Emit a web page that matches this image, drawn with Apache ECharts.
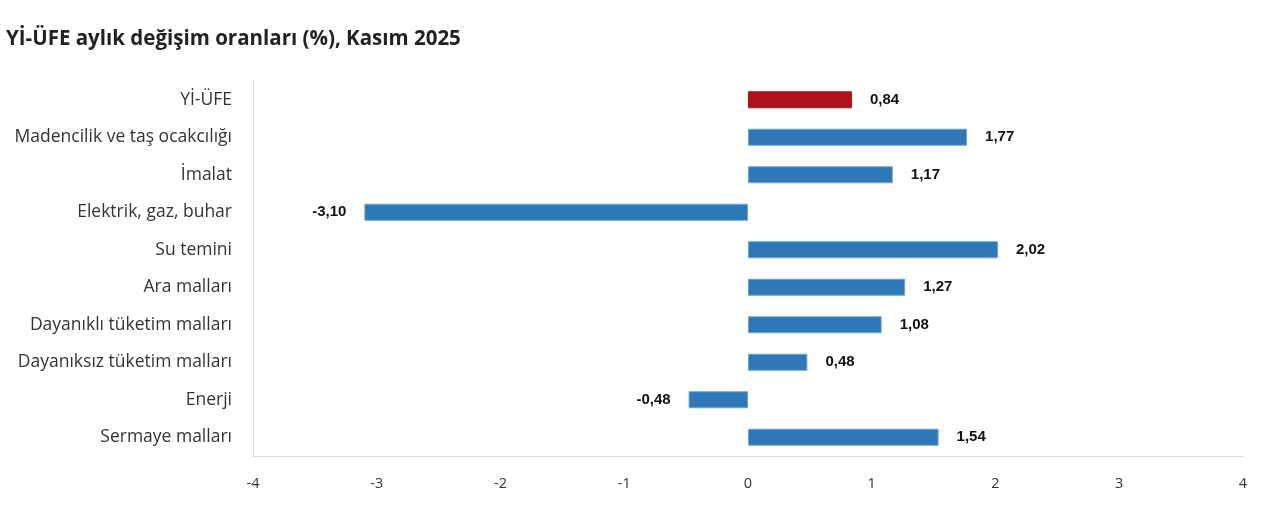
<!DOCTYPE html>
<html><head><meta charset="utf-8">
<script src="https://cdn.jsdelivr.net/npm/echarts@6/dist/echarts.min.js"></script>
<style>html,body{margin:0;padding:0;background:#fff}#c{width:1280px;height:523px}</style>
</head><body><div id="c"></div>
<script>
const categories = ["Yİ-ÜFE","Madencilik ve taş ocakcılığı","İmalat","Elektrik, gaz, buhar","Su temini","Ara malları","Dayanıklı tüketim malları","Dayanıksız tüketim malları","Enerji","Sermaye malları"];
const values = [0.84, 1.77, 1.17, -3.10, 2.02, 1.27, 1.08, 0.48, -0.48, 1.54];
const xTicks = [-4,-3,-2,-1,0,1,2,3,4];
const chart = echarts.init(document.getElementById('c'));
chart.setOption({
  animation:false,
  backgroundColor:'#fff',
  title:{text:'Yİ-ÜFE aylık değişim oranları (%), Kasım 2025',left:1,top:24,
    textStyle:{fontFamily:'Open Sans',fontWeight:'bold',fontSize:20.5,color:'#222'}},
  grid:{left:253,right:37,top:81,bottom:67},
  xAxis:{type:'value',min:xTicks[0],max:xTicks[xTicks.length-1],interval:1,
    axisLine:{show:true,lineStyle:{color:'#d9d9d9'}},axisTick:{show:false},splitLine:{show:false},
    axisLabel:{margin:20,fontFamily:'Open Sans',fontSize:14.5,color:'#333'}},
  yAxis:{type:'category',data:categories,inverse:true,
    axisLine:{show:true,onZero:false,lineStyle:{color:'#d9d9d9'}},axisTick:{show:false},
    axisLabel:{margin:21,fontFamily:'Open Sans',fontSize:17.5,color:'#333'}},
  series:[{type:'bar',barWidth:17,
    data:values.map((v,i)=>({value:v,
      itemStyle:{color:i===0?'#B0121B':'#2E78B8',borderColor:i===0?'#B0121B':'#6BA3D6',borderWidth:1},
      label:v<0?{position:'left'}:{}})),
    label:{show:true,position:'right',distance:18,fontFamily:'Liberation Sans',fontWeight:'bold',fontSize:15,color:'#111',
      formatter:p=>p.value.toFixed(2).replace('.',',')}}]
});
</script></body></html>
